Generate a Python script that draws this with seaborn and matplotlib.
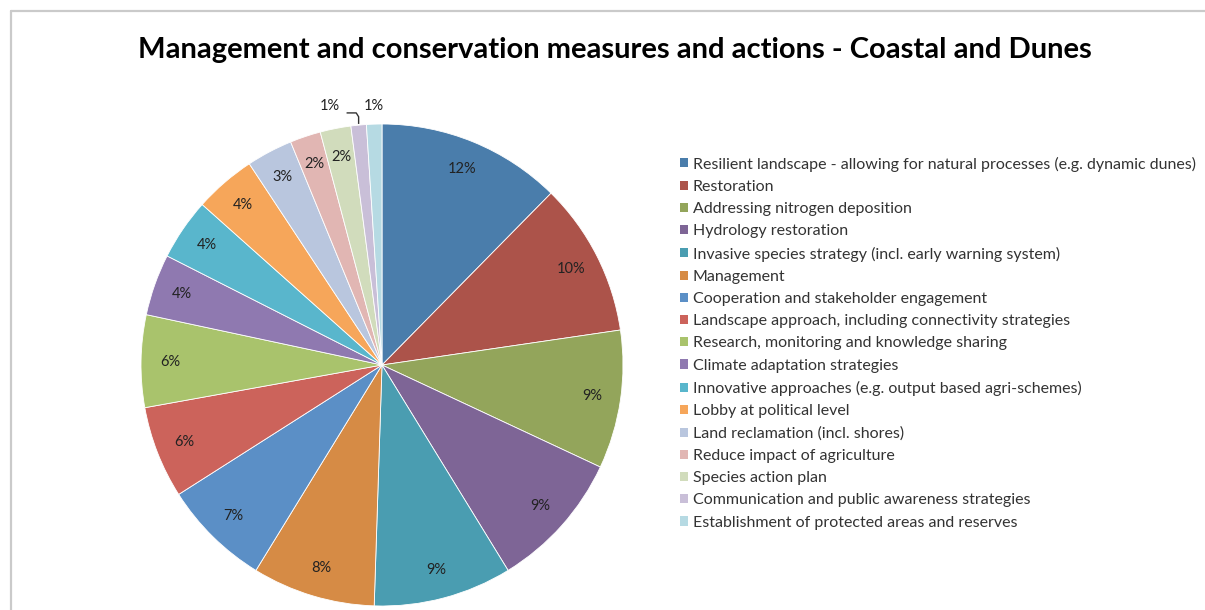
import numpy as np
import matplotlib
matplotlib.use("Agg")
import matplotlib.pyplot as plt
from matplotlib.lines import Line2D
import seaborn as sns

# Survey answers per measure (number of mentions)
measures = [
    "Resilient landscape - allowing for natural processes (e.g. dynamic dunes)",
    "Restoration",
    "Addressing nitrogen deposition",
    "Hydrology restoration",
    "Invasive species strategy (incl. early warning system)",
    "Management",
    "Cooperation and stakeholder engagement",
    "Landscape approach, including connectivity strategies",
    "Research, monitoring and knowledge sharing",
    "Climate adaptation strategies",
    "Innovative approaches (e.g. output based agri-schemes)",
    "Lobby at political level",
    "Land reclamation (incl. shores)",
    "Reduce impact of agriculture",
    "Species action plan",
    "Communication and public awareness strategies",
    "Establishment of protected areas and reserves",
]
mentions = [12, 10, 9, 9, 9, 8, 7, 6, 6, 4, 4, 4, 3, 2, 2, 1, 1]

slice_colors = [
    "#4A7DAB", "#AC534A", "#93A55B", "#7E6596", "#4A9DB1", "#D68B45",
    "#5B8FC6", "#CC635B", "#A9C36C", "#8F79B0", "#59B6CC", "#F6A65A",
    "#B9C6DE", "#E1B6B3", "#D1DCBC", "#C9BFD8", "#B6DAE3",
]

title = "Management and conservation measures and actions - Coastal and Dunes"

sns.set_theme(style="white")
plt.rcParams["font.family"] = ["Lato", "DejaVu Sans"]

W, H = 1205, 610
fig = plt.figure(figsize=(W / 100, H / 100), dpi=100)
fig.patch.set_facecolor("white")

# Pie axes: centre and radius in pixels
cx, cy, r = 382, 365, 241
pad = 1.05
ax = fig.add_axes([(cx - r * pad) / W, (H - cy - r * pad) / H,
                   2 * r * pad / W, 2 * r * pad / H])

wedges, texts, autotexts = ax.pie(
    mentions,
    colors=slice_colors,
    startangle=90,
    counterclock=False,
    autopct=lambda p: f"{p:.0f}%",
    pctdistance=0.88,
    wedgeprops=dict(edgecolor="white", linewidth=0.6),
    textprops=dict(fontsize=10.5, color="#222222"),
)
ax.set_xlim(-pad, pad)
ax.set_ylim(-pad, pad)
ax.set_aspect("equal")
ax.axis("off")

# The two smallest slices get their labels above the pie
def mid_point(w):
    a = np.deg2rad((w.theta1 + w.theta2) / 2)
    return np.cos(a), np.sin(a)

x16, y16 = mid_point(wedges[16])
autotexts[16].set_position((x16, 1.075))
x15, y15 = mid_point(wedges[15])
autotexts[15].set_position((x15 - 0.12, 1.075))
ax.plot([x15 - 0.05, x15 - 0.01, x15, x15], [1.046, 1.046, 1.03, y15 + 0.005],
        color="#333333", lw=1.0, clip_on=False, solid_capstyle="butt")

fig.text(615 / W, 1 - 50 / H, title, ha="center", va="center",
         fontsize=21, fontweight="bold", color="black")

leg = fig.legend(
    wedges, measures,
    loc="upper left",
    bbox_to_anchor=(680 / W, 1 - 156.5 / H),
    frameon=False,
    borderaxespad=0,
    borderpad=0,
    fontsize=11.5,
    handlelength=0.5,
    handleheight=0.5,
    handletextpad=0.3,
    labelspacing=0.515,
)
for t in leg.get_texts():
    t.set_color("#333333")
for h in leg.legend_handles:
    h.set_edgecolor("none")

# Light grey chart frame along the top and left
fig.add_artist(Line2D([10.5 / W, 1], [1 - 11 / H, 1 - 11 / H],
                      transform=fig.transFigure, color="#CACACA", lw=1.6))
fig.add_artist(Line2D([10.5 / W, 10.5 / W], [0, 1 - 11 / H],
                      transform=fig.transFigure, color="#CACACA", lw=1.6))

fig.savefig("out.png", dpi=100, facecolor="white")
